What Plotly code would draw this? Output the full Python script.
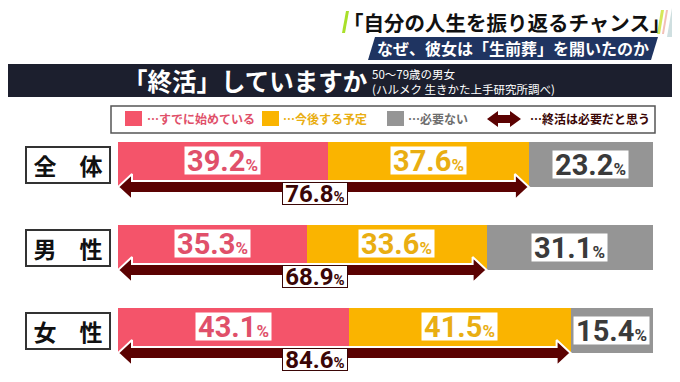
import plotly.graph_objects as go

# ---------------- data ----------------
categories = ["全　体", "男　性", "女　性"]
started = [39.2, 35.3, 43.1]       # …すでに始めている
planned = [37.6, 33.6, 41.5]       # …今後する予定
not_needed = [23.2, 31.1, 15.4]    # …必要ない
needed_total = [76.8, 68.9, 84.6]  # …終活は必要だと思う

legend_labels = ["…すでに始めている", "…今後する予定", "…必要ない", "…終活は必要だと思う"]
title_text = "「自分の人生を振り返るチャンス」"
subtitle_text = "なぜ、彼女は「生前葬」を開いたのか"
heading_text = "「終活」していますか"
note_lines = ["50～79歳の男女", "(ハルメク 生きかた上手研究所調べ)"]

# ---------------- style ----------------
PINK, ORANGE, GRAY, DARKRED = "#f4546a", "#fab400", "#959595", "#5b0202"
PINK_T, ORANGE_T, GRAY_T, DARKRED_T = "#e0506a", "#e9ae12", "#3a3a3a", "#3a0606"
JP = "Noto Sans CJK JP"
NUM = "Roboto"

OFF = 8  # page body margin
W, H = 680 - OFF, 382 - OFF
L, R, T, B = 118 - OFF, 27, 130 - OFF, 11
PW = W - L - R
PH = H - T - B
ROW_PX = 83.0
Y_TOP = -34.5 / ROW_PX
Y_BOT = Y_TOP + PH / ROW_PX
XU = 100.0 / PW   # data units per pixel (x)
YU = 1.0 / ROW_PX  # data units per pixel (y)


def px(x):  # screen x -> paper
    return (x - OFF - L) / PW


def py(y):  # screen y -> paper
    return (H - B - (y - OFF)) / PH


rows = list(range(len(categories)))
fig = go.Figure()

BAR_W = 45 * YU
for vals, col in [(started, PINK), (planned, ORANGE), (not_needed, GRAY)]:
    fig.add_trace(go.Bar(y=rows, x=vals, orientation="h", width=BAR_W,
                         marker=dict(color=col, line=dict(width=0)),
                         hoverinfo="skip", showlegend=False))

# double arrows (span = needed_total)
hl, hh, sh = 14 * XU, 13 * YU, 6 * YU
for i, tot in enumerate(needed_total):
    cy = i + 22.5 * YU
    xs = [0, hl, hl, tot - hl, tot - hl, tot, tot - hl, tot - hl, hl, hl, 0]
    ys = [cy, cy - hh, cy - sh, cy - sh, cy - hh, cy, cy + hh, cy + sh, cy + sh, cy + hh, cy]
    fig.add_trace(go.Scatter(x=xs, y=ys, mode="lines", fill="toself", fillcolor=DARKRED,
                             line=dict(color="white", width=2), hoverinfo="skip",
                             showlegend=False))


def pct(v, small):
    return f"{v:.1f}<span style='font-size:{small}px'>%</span>"


def A(**kw):
    d = dict(showarrow=False, xanchor="center", yanchor="middle")
    d.update(kw)
    return d


ann = []
for i in rows:
    s, p, n = started[i], planned[i], not_needed[i]
    for xc, yc, v, tc in [(s / 2, i - 4.5 * YU, s, PINK_T),
                          (s + p / 2, i - 4.5 * YU, p, ORANGE_T),
                          (s + p + n / 2, i, n, GRAY_T)]:
        ann.append(A(x=xc, y=yc, xref="x", yref="y", text=pct(v, 17),
                     bgcolor="white", width=73, height=25, borderpad=1,
                     font=dict(family=NUM, size=29, color=tc, weight="bold")))
    ann.append(A(x=36.8, y=i + 29 * YU, xref="x", yref="y", text=pct(needed_total[i], 15),
                 bgcolor="white", width=62, height=19, borderpad=1,
                 bordercolor=DARKRED_T, borderwidth=1,
                 font=dict(family=NUM, size=24, color=DARKRED_T, weight="bold")))
    ann.append(A(x=px(68), y=i + 0.5 * YU, xref="paper", yref="y", text=categories[i],
                 bgcolor="white", width=82, height=34, borderpad=0,
                 bordercolor="#333333", borderwidth=2,
                 font=dict(family=JP, size=23, color="#111111", weight="bold")))

# titles
ann.append(A(x=px(506), y=py(22), xref="paper", yref="paper", text=title_text,
             font=dict(family=JP, size=20.5, color="#111111", weight="bold")))
ann.append(A(x=px(513), y=py(48), xref="paper", yref="paper", text=subtitle_text,
             font=dict(family=JP, size=16, color="white", weight="bold")))
ann.append(A(x=px(121), y=py(80.5), xref="paper", yref="paper", text=heading_text,
             xanchor="left", font=dict(family=JP, size=24.5, color="white", weight="bold")))
for k, line in enumerate(note_lines):
    ann.append(A(x=px(370), y=py(74 + 15 * k), xref="paper", yref="paper", text=line,
                 xanchor="left", font=dict(family=JP, size=11.5, color="white")))

# legend
leg_text_x = [145, 281, 406, 528]
leg_cols = [PINK_T, ORANGE_T, "#6e6e6e", DARKRED_T]
for lx, lab, c in zip(leg_text_x, legend_labels, leg_cols):
    ann.append(A(x=px(lx), y=py(119), xref="paper", yref="paper", text=lab,
                 xanchor="left", font=dict(family=JP, size=12, color=c, weight="bold")))


def ppath(points):
    return "M " + " L ".join(f"{px(a):.5f},{py(b):.5f}" for a, b in points) + " Z"


shapes = []
# right frame line
shapes.append(dict(type="line", xref="paper", yref="paper", x0=px(676), x1=px(676), y0=py(97), y1=py(382),
                   line=dict(color="#a0a0a0", width=2)))
# title decorations
for pts, c in [([(667, 37), (672, 8), (680, 8), (680, 37)], "#cfdfe0"),
               ([(342, 33), (346, 11), (349, 11), (345, 33)], "#a9e02a"),
               ([(657, 34), (661, 10), (664, 10), (660, 34)], "#d6e85a"),
               ([(662, 34), (666, 10), (668, 10), (664, 34)], "#f2c0b8")]:
    shapes.append(dict(type="path", xref="paper", yref="paper", path=ppath(pts),
                       fillcolor=c, line=dict(width=0)))
# subtitle box
shapes.append(dict(type="path", xref="paper", yref="paper",
                   path=ppath([(368, 60), (375, 37), (658, 37), (651, 60)]),
                   fillcolor="#1f3461", line=dict(width=0), layer="below"))
# heading band
shapes.append(dict(type="rect", xref="paper", yref="paper", x0=px(0), x1=px(680), y0=py(97), y1=py(64),
                   fillcolor="#1c1f2e", line=dict(width=0), layer="below"))
# legend box
shapes.append(dict(type="rect", xref="paper", yref="paper", x0=px(111), x1=px(655), y0=py(133), y1=py(106),
                   fillcolor="white", line=dict(color="#555555", width=1.5), layer="below"))
for x0, c in [(125, PINK), (262, ORANGE), (387, GRAY)]:
    shapes.append(dict(type="rect", xref="paper", yref="paper", x0=px(x0), x1=px(x0 + 17),
                       y0=py(126), y1=py(111), fillcolor=c, line=dict(width=0)))
lx0, lx1, lcy = 487, 521, 119
shapes.append(dict(type="path", xref="paper", yref="paper", fillcolor=DARKRED, line=dict(width=0),
                   path=ppath([(lx0, lcy), (lx0 + 11, lcy - 8), (lx0 + 11, lcy - 4), (lx1 - 11, lcy - 4),
                               (lx1 - 11, lcy - 8), (lx1, lcy), (lx1 - 11, lcy + 8), (lx1 - 11, lcy + 4),
                               (lx0 + 11, lcy + 4), (lx0 + 11, lcy + 8)])))

fig.update_layout(
    width=W, height=H, margin=dict(l=L, r=R, t=T, b=B, pad=0),
    paper_bgcolor="white", plot_bgcolor="white",
    barmode="stack", bargap=0, showlegend=False,
    xaxis=dict(range=[0, 100], visible=False, fixedrange=True),
    yaxis=dict(range=[Y_BOT, Y_TOP], visible=False, fixedrange=True),
    annotations=ann, shapes=shapes,
)

fig.write_html("out.html")
